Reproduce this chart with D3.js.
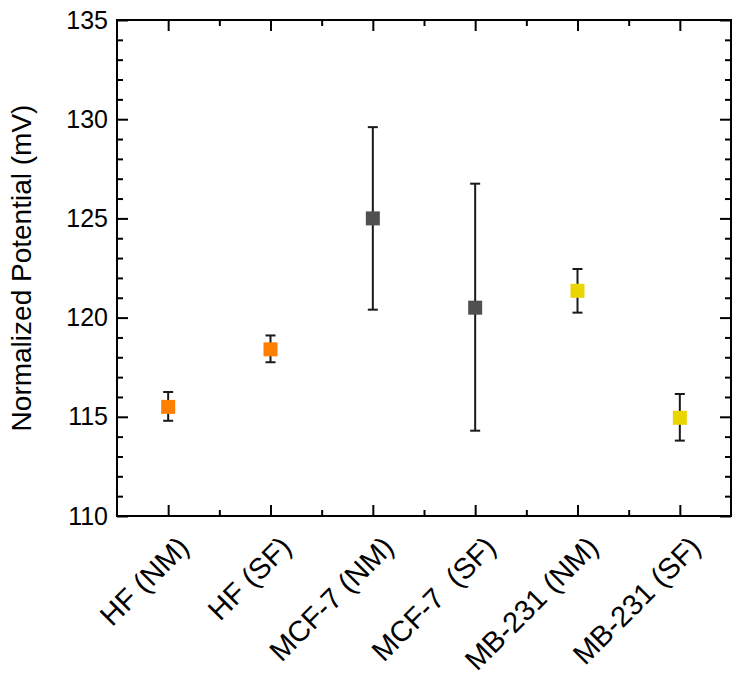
<!DOCTYPE html>
<html>
<head>
<meta charset="utf-8">
<script src="https://cdn.jsdelivr.net/npm/d3@7"></script>
<style>
  body { margin: 0; background: #fff; }
  text { font-family: "Liberation Sans", Arial, sans-serif; fill: #000; }
</style>
</head>
<body>
<div id="chart"></div>
<script>
// values
var categories = ["HF (NM)", "HF (SF)", "MCF-7 (NM)", "MCF-7  (SF)", "MB-231 (NM)", "MB-231 (SF)"];
var potential = [115.5, 118.4, 125.0, 120.5, 121.35, 114.95];
var errUp = [0.75, 0.7, 4.6, 6.25, 1.1, 1.2];
var errDown = [0.7, 0.65, 4.6, 6.2, 1.1, 1.15];
var pointColors = ["#ff8000", "#ff8000", "#505050", "#505050", "#ead500", "#ead500"];
var yTicks = [110, 115, 120, 125, 130, 135];

var W = 742, H = 686;
var margin = {top: 20, right: 11, bottom: 170, left: 117};
var width = W - margin.left - margin.right,
    height = H - margin.top - margin.bottom;

var svg = d3.select("#chart").append("svg")
    .attr("width", W)
    .attr("height", H)
  .append("g")
    .attr("transform", "translate(" + margin.left + "," + margin.top + ")");

var x = d3.scaleLinear().domain([0.5, 6.5]).range([0, width]);
var y = d3.scaleLinear().domain([110, 135]).range([height, 0]);

var data = categories.map(function(c, i){
  return {label: c, idx: i + 1, v: potential[i], hi: potential[i] + errUp[i], lo: potential[i] - errDown[i], color: pointColors[i]};
});

// minor ticks
var yMinor = d3.range(110, 135.01, 1).filter(function(d){ return d % 5 != 0; });
var xMinor = d3.range(1.5, 6, 1);

svg.append("g").attr("class", "yMinorL")
  .call(d3.axisRight(y).tickValues(yMinor).tickSize(6).tickFormat(""));
svg.append("g").attr("class", "yMinorR").attr("transform", "translate(" + width + ",0)")
  .call(d3.axisLeft(y).tickValues(yMinor).tickSize(6).tickFormat(""));
svg.append("g").attr("class", "xMinorB").attr("transform", "translate(0," + height + ")")
  .call(d3.axisTop(x).tickValues(xMinor).tickSize(6).tickFormat(""));
svg.append("g").attr("class", "xMinorT")
  .call(d3.axisBottom(x).tickValues(xMinor).tickSize(6).tickFormat(""));

// major ticks
var yLeft = svg.append("g").attr("class", "yLeft")
  .call(d3.axisRight(y).tickValues(yTicks).tickSize(11).tickFormat(d3.format("d")));
yLeft.selectAll(".tick text")
  .attr("x", -9).attr("text-anchor", "end")
  .style("font-size", "25px");

svg.append("g").attr("transform", "translate(" + width + ",0)")
  .call(d3.axisLeft(y).tickValues(yTicks).tickSize(11).tickFormat(""));

var xBottom = svg.append("g").attr("class", "xBottom").attr("transform", "translate(0," + height + ")")
  .call(d3.axisTop(x).tickValues(d3.range(1, 7)).tickSize(11).tickFormat(function(d){ return categories[d - 1]; }));
xBottom.selectAll(".tick text")
  .attr("x", 0).attr("y", 0).attr("dy", null)
  .attr("text-anchor", "end")
  .attr("transform", "translate(22,33) rotate(-45)")
  .style("white-space", "pre")
  .style("font-size", "29px");

svg.append("g")
  .call(d3.axisBottom(x).tickValues(d3.range(1, 7)).tickSize(11).tickFormat(""));

svg.selectAll(".domain").remove();
svg.selectAll(".tick line").attr("stroke", "#000").attr("stroke-width", 2);

// frame
svg.append("rect")
  .attr("x", 0).attr("y", 0)
  .attr("width", width).attr("height", height)
  .attr("fill", "none").attr("stroke", "#000").attr("stroke-width", 2);

// error bars
var capW = 10;
var eb = svg.append("g").attr("class", "errorbars")
  .selectAll("g").data(data).enter().append("g");
eb.append("line")
  .attr("x1", function(d){ return x(d.idx); }).attr("x2", function(d){ return x(d.idx); })
  .attr("y1", function(d){ return y(d.hi); }).attr("y2", function(d){ return y(d.lo); })
  .attr("stroke", "#1a1a1a").attr("stroke-width", 2);
eb.append("line")
  .attr("x1", function(d){ return x(d.idx) - capW / 2; }).attr("x2", function(d){ return x(d.idx) + capW / 2; })
  .attr("y1", function(d){ return y(d.hi); }).attr("y2", function(d){ return y(d.hi); })
  .attr("stroke", "#1a1a1a").attr("stroke-width", 2);
eb.append("line")
  .attr("x1", function(d){ return x(d.idx) - capW / 2; }).attr("x2", function(d){ return x(d.idx) + capW / 2; })
  .attr("y1", function(d){ return y(d.lo); }).attr("y2", function(d){ return y(d.lo); })
  .attr("stroke", "#1a1a1a").attr("stroke-width", 2);

// points
var sq = 14;
svg.append("g").attr("class", "points")
  .selectAll("rect").data(data).enter().append("rect")
  .attr("x", function(d){ return x(d.idx) - sq / 2; })
  .attr("y", function(d){ return y(d.v) - sq / 2; })
  .attr("width", sq).attr("height", sq)
  .attr("fill", function(d){ return d.color; });

// y title
svg.append("text")
  .attr("transform", "translate(-86," + (height / 2) + ") rotate(-90)")
  .attr("text-anchor", "middle")
  .style("font-size", "28px")
  .text("Normalized Potential (mV)");
</script>
</body>
</html>
